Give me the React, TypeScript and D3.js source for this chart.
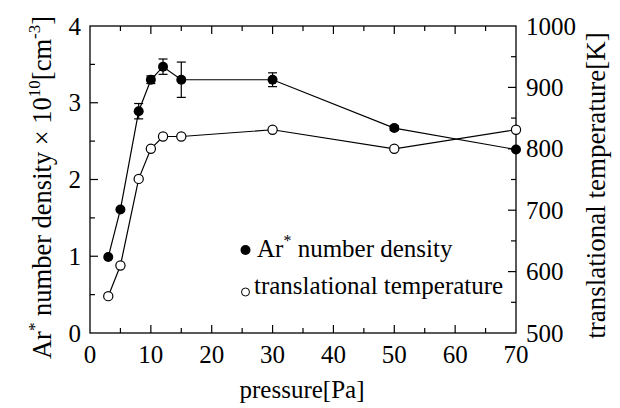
import React, { useRef, useEffect } from 'react';
import * as d3 from 'd3';

// pressure [Pa]
const pressure = [3, 5, 8, 10, 12, 15, 30, 50, 70];
// Ar* number density x10^10 [cm^-3]
const density = [0.99, 1.61, 2.89, 3.3, 3.47, 3.3, 3.3, 2.67, 2.39];
const densityErr = [0, 0, 0.1, 0.05, 0.1, 0.23, 0.09, 0.03, 0];
// translational temperature [K]
const temperature = [560, 610, 751, 800, 820, 820, 831, 800, 831];

const xMajor = [0, 10, 20, 30, 40, 50, 60, 70];
const xMinor = [5, 15, 25, 35, 45, 55, 65];
const yLeftMajor = [0, 1, 2, 3, 4];
const yLeftMinor = [0.5, 1.5, 2.5, 3.5];
const yRightMajor = [500, 600, 700, 800, 900, 1000];
const yRightMinor = [550, 650, 750, 850, 950];

const FONT = '"Times New Roman", Times, "Liberation Serif", serif';

const App = () => {
    const ref = useRef<SVGSVGElement>(null);

    useEffect(() => {
        const svg = d3.select(ref.current);
        svg.selectAll('*').remove();

        const W = 620, H = 408;
        const margin = { top: 26, right: 104, bottom: 75, left: 90 };
        const x = d3.scaleLinear().domain([0, 70]).range([margin.left, W - margin.right]);
        const yL = d3.scaleLinear().domain([0, 4]).range([H - margin.bottom, margin.top]);
        const yR = d3.scaleLinear().domain([500, 1000]).range([H - margin.bottom, margin.top]);
        const x0 = margin.left, x1 = W - margin.right, y0 = H - margin.bottom, y1 = margin.top;

        const g = svg.append('g');

        // frame
        g.append('rect')
            .attr('x', x0).attr('y', y1)
            .attr('width', x1 - x0).attr('height', y0 - y1)
            .attr('fill', 'none').attr('stroke', '#000').attr('stroke-width', 1.3);

        const tick = (sel, vals, fn) => sel.selectAll(null).data(vals).enter().append('line')
            .attr('stroke', '#000').attr('stroke-width', 1.2).each(fn);

        const MAJ = 8, MIN = 5;
        // bottom + top ticks
        tick(g, xMajor.slice(1, -1), function (d) {
            d3.select(this).attr('x1', x(d)).attr('x2', x(d)).attr('y1', y0).attr('y2', y0 - MAJ);
        });
        tick(g, xMinor, function (d) {
            d3.select(this).attr('x1', x(d)).attr('x2', x(d)).attr('y1', y0).attr('y2', y0 - MIN);
        });
        tick(g, xMajor.slice(1, -1), function (d) {
            d3.select(this).attr('x1', x(d)).attr('x2', x(d)).attr('y1', y1).attr('y2', y1 + MAJ);
        });
        tick(g, xMinor, function (d) {
            d3.select(this).attr('x1', x(d)).attr('x2', x(d)).attr('y1', y1).attr('y2', y1 + MIN);
        });
        // left ticks
        tick(g, yLeftMajor.slice(1, -1), function (d) {
            d3.select(this).attr('x1', x0).attr('x2', x0 + MAJ).attr('y1', yL(d)).attr('y2', yL(d));
        });
        tick(g, yLeftMinor, function (d) {
            d3.select(this).attr('x1', x0).attr('x2', x0 + MIN).attr('y1', yL(d)).attr('y2', yL(d));
        });
        // right ticks
        tick(g, yRightMajor.slice(1, -1), function (d) {
            d3.select(this).attr('x1', x1).attr('x2', x1 - MAJ).attr('y1', yR(d)).attr('y2', yR(d));
        });
        tick(g, yRightMinor, function (d) {
            d3.select(this).attr('x1', x1).attr('x2', x1 - MIN).attr('y1', yR(d)).attr('y2', yR(d));
        });

        const txt = (sel) => sel.append('text').style('font-family', FONT).attr('fill', '#000');

        // tick labels
        xMajor.forEach(d => txt(g).attr('x', x(d)).attr('y', y0 + 30)
            .attr('text-anchor', 'middle').attr('font-size', 25).text(d));
        yLeftMajor.forEach(d => txt(g).attr('x', x0 - 9).attr('y', yL(d) + 8.5)
            .attr('text-anchor', 'end').attr('font-size', 25).text(d));
        yRightMajor.forEach(d => txt(g).attr('x', x1 + 10).attr('y', yR(d) + 8.5)
            .attr('text-anchor', 'start').attr('font-size', 25).text(d));

        // axis titles
        txt(g).attr('x', 302).attr('y', 398)
            .attr('text-anchor', 'middle').attr('font-size', 25).text('pressure[Pa]');

        const lt = txt(g)
            .attr('transform', `translate(51, ${(y0 + y1) / 2 + 8}) rotate(-90)`)
            .attr('text-anchor', 'middle').attr('font-size', 26.5);
        lt.append('tspan').text('Ar');
        lt.append('tspan').attr('font-size', 17).attr('dy', -11).text('*');
        lt.append('tspan').attr('dy', 11).text(' number density \u00d7 10');
        lt.append('tspan').attr('font-size', 17).attr('dy', -11).text('10');
        lt.append('tspan').attr('dy', 11).text('[cm');
        lt.append('tspan').attr('font-size', 17).attr('dy', -11).text('-3');
        lt.append('tspan').attr('dy', 11).text(']');

        txt(g)
            .attr('transform', `translate(605, ${(y0 + y1) / 2 + 6}) rotate(-90)`)
            .attr('text-anchor', 'middle').attr('font-size', 27)
            .text('translational temperature[K]');

        // lines
        const lineD = d3.line<number>().x((d, i) => x(pressure[i])).y(d => yL(d));
        const lineT = d3.line<number>().x((d, i) => x(pressure[i])).y(d => yR(d));
        g.append('path').attr('d', lineT(temperature)).attr('fill', 'none').attr('stroke', '#000').attr('stroke-width', 1.2);
        g.append('path').attr('d', lineD(density)).attr('fill', 'none').attr('stroke', '#000').attr('stroke-width', 1.2);

        // error bars
        const eb = g.selectAll('.eb').data(pressure.map((p, i) => ({ p, v: density[i], e: densityErr[i] })).filter(d => d.e > 0))
            .enter().append('g');
        eb.append('line')
            .attr('x1', d => x(d.p)).attr('x2', d => x(d.p))
            .attr('y1', d => yL(d.v - d.e)).attr('y2', d => yL(d.v + d.e))
            .attr('stroke', '#000').attr('stroke-width', 1.2);
        eb.append('line')
            .attr('x1', d => x(d.p) - 4.5).attr('x2', d => x(d.p) + 4.5)
            .attr('y1', d => yL(d.v - d.e)).attr('y2', d => yL(d.v - d.e))
            .attr('stroke', '#000').attr('stroke-width', 1.2);
        eb.append('line')
            .attr('x1', d => x(d.p) - 4.5).attr('x2', d => x(d.p) + 4.5)
            .attr('y1', d => yL(d.v + d.e)).attr('y2', d => yL(d.v + d.e))
            .attr('stroke', '#000').attr('stroke-width', 1.2);

        // markers
        g.selectAll('.mt').data(temperature).enter().append('circle')
            .attr('cx', (d, i) => x(pressure[i])).attr('cy', d => yR(d)).attr('r', 4.6)
            .attr('fill', '#fff').attr('stroke', '#000').attr('stroke-width', 1.2);
        g.selectAll('.md').data(density).enter().append('circle')
            .attr('cx', (d, i) => x(pressure[i])).attr('cy', d => yL(d)).attr('r', 5)
            .attr('fill', '#000');

        // legend
        const lg = g.append('g');
        lg.append('circle').attr('cx', 245.5).attr('cy', 250).attr('r', 5).attr('fill', '#000');
        const l1 = txt(lg).attr('x', 257).attr('y', 257).attr('font-size', 25);
        l1.append('tspan').text('Ar');
        l1.append('tspan').attr('font-size', 16).attr('dy', -11).text('*');
        l1.append('tspan').attr('dy', 11).text(' number density');
        lg.append('circle').attr('cx', 245.5).attr('cy', 292).attr('r', 4)
            .attr('fill', '#fff').attr('stroke', '#000').attr('stroke-width', 1);
        txt(lg).attr('x', 254).attr('y', 294).attr('font-size', 25).text('translational temperature');
    }, []);

    return (
        <div style={{ position: 'absolute', left: 0, top: 0, width: 620, height: 408, background: '#fff' }}>
            <svg ref={ref} width={620} height={408}></svg>
        </div>
    );
};

export default App;
